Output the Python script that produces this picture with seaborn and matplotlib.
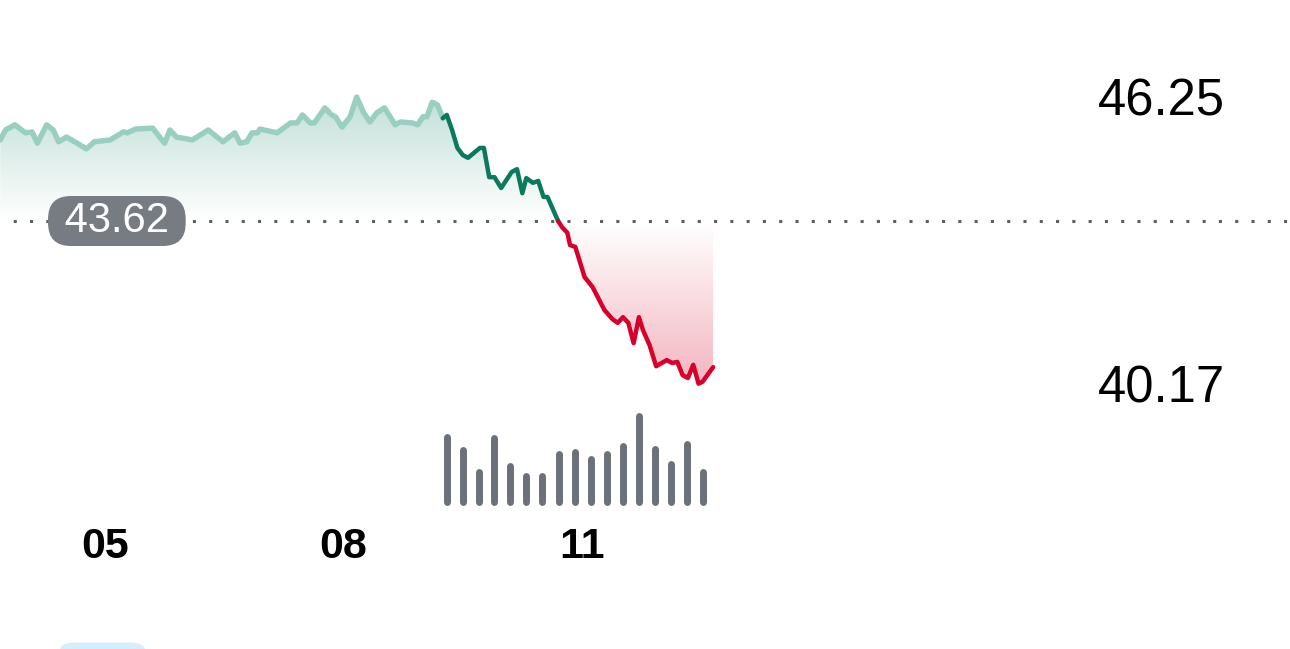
import seaborn as sns
import matplotlib.pyplot as plt
import pandas as pd
import numpy as np
from matplotlib.patches import FancyBboxPatch

sns.set_theme(style='white')
plt.rcParams['font.family'] = ['Liberation Sans', 'DejaVu Sans']

# minutes after midnight / price
pre_t = [221, 225, 232, 240, 245, 249, 256, 261, 265, 271, 279, 286, 292, 304, 314, 317, 323, 336, 345, 349,
         354, 366, 378, 389, 398, 402, 407, 411, 415, 417, 430, 440, 445, 449, 455, 458, 466, 471, 474, 479,
         485, 490, 495, 500, 505, 511, 519, 523, 532, 536, 540, 543, 547, 551, 555]
pre_p = [45.34, 45.55, 45.66, 45.49, 45.51, 45.27, 45.66, 45.55, 45.30, 45.40, 45.27, 45.15, 45.30, 45.34, 45.51,
         45.49, 45.57, 45.59, 45.27, 45.55, 45.40, 45.34, 45.55, 45.30, 45.49, 45.27, 45.30, 45.49, 45.49, 45.57,
         45.49, 45.70, 45.70, 45.87, 45.70, 45.70, 46.02, 45.87, 45.83, 45.61, 45.83, 46.25, 45.93, 45.72, 45.91,
         46.02, 45.66, 45.72, 45.70, 45.66, 45.83, 45.83, 46.14, 46.08, 45.80]

sess_t = [555, 558, 562, 566, 570, 574, 583, 586, 590, 594, 599, 607, 611, 615, 618, 623, 627, 631, 634, 642,
          645, 649, 651, 655, 662, 668, 677, 683, 687, 691, 695, 699, 703, 706, 711, 716, 724, 728, 732, 736,
          740, 744, 748, 751, 759]
sess_p = [45.80, 45.87, 45.55, 45.17, 45.02, 44.96, 45.17, 45.17, 44.55, 44.55, 44.32, 44.66, 44.72, 44.21, 44.53,
          44.43, 44.47, 44.13, 44.13, 43.62, 43.49, 43.37, 43.11, 43.07, 42.43, 42.22, 41.73, 41.54, 41.46, 41.58,
          41.46, 41.03, 41.58, 41.31, 40.99, 40.54, 40.67, 40.61, 40.63, 40.35, 40.29, 40.57, 40.17, 40.21, 40.52]

vol_t = [558, 570, 582, 594, 606, 618, 630, 643, 655, 667, 679, 691, 703, 715, 727, 739, 751]
vol = [71, 57, 33, 70, 39, 29, 29, 52, 55, 47, 52, 61, 94, 58, 42, 63, 33]

prev_close = 43.62
day_high = 46.25
day_low = 40.17
tick_pos = [300, 480, 660]
tick_lab = ['05', '08', '11']

green_ghost = '#98cfc0'
green = '#0b7a5c'
red = '#d8002a'

pre = pd.DataFrame({'t': pre_t, 'p': pre_p})
sess = pd.DataFrame({'t': sess_t, 'p': sess_p})
cross = int(np.argmax(sess['p'].values <= prev_close))
up = sess.iloc[:cross + 1]
down = sess.iloc[cross:]

fig = plt.figure(figsize=(12.9, 6.49), dpi=100)
ax = fig.add_axes([0, 129 / 649, 1, 520 / 649])
axv = fig.add_axes([0, 143 / 649, 1, 94 / 649])
for a in (ax, axv):
    a.set_facecolor('none')
    for s in a.spines.values():
        s.set_visible(False)


def grad_fill(ax, x, y, base, rgb, a_far, y_far):
    poly = ax.fill_between(x, y, base, color='none', lw=0)
    img = np.zeros((256, 1, 4))
    img[..., :3] = rgb
    img[..., 3] = np.linspace(a_far, 0, 256)[:, None]
    if y_far > base:
        ext = [min(x), max(x), base, y_far]
    else:
        ext = [min(x), max(x), y_far, base]
        img = img[::-1]
    im = ax.imshow(img, extent=ext, aspect='auto', origin='upper', zorder=1, interpolation='bilinear')
    im.set_clip_path(poly.get_paths()[0], transform=ax.transData)


all_up = pd.concat([pre, up.iloc[1:]])
grad_fill(ax, all_up['t'].values, all_up['p'].values, prev_close, (0.11, 0.55, 0.43), 0.28, 46.3)
grad_fill(ax, down['t'].values, down['p'].values, prev_close, (0.84, 0.0, 0.16), 0.30, 40.1)

ax.axhline(prev_close, color='#5a5f66', lw=2.2, linestyle=(1, (1, 4.33)), zorder=2)

sns.lineplot(data=pre, x='t', y='p', ax=ax, color=green_ghost, lw=3.9, zorder=3,
             solid_capstyle='round', solid_joinstyle='round')
sns.lineplot(data=up, x='t', y='p', ax=ax, color=green, lw=3.2, zorder=4, solid_joinstyle='round')
sns.lineplot(data=down, x='t', y='p', ax=ax, color=red, lw=3.2, zorder=4, solid_joinstyle='round')

ax.text(309, prev_close, f' {prev_close:.2f} ', ha='center', va='center', color='white', fontsize=30,
        zorder=5, bbox=dict(boxstyle='round,pad=0.12,rounding_size=0.55', fc='#777b82', ec='none'))

x0 = 220.8
x1 = x0 + 1290 / 1.325
ax.set_xlim(x0, x1)
ax.set_ylim(46.25 - 423 * 0.02121, 46.25 + 97 * 0.02121)
ax.set_xticks(tick_pos)
ax.set_xticklabels(tick_lab, fontsize=31, fontweight='bold', color='black')
ax.tick_params(axis='x', length=0, pad=5)
ax.yaxis.tick_right()
ax.set_yticks([day_low, day_high])
ax.set_yticklabels([f'{day_low:.2f}', f'{day_high:.2f}'], fontsize=36.5, color='black')
for lbl in ax.get_yticklabels():
    lbl.set_ha('right')
ax.tick_params(axis='y', length=0, pad=-46.8)
ax.set_xlabel('')
ax.set_ylabel('')
ax.grid(False)

axv.vlines(vol_t, 0, vol, color='#6b7079', lw=5, capstyle='round')
axv.set_xlim(x0, x1)
axv.set_ylim(-4, 98)
axv.set_xticks([])
axv.set_yticks([])

fig.patches.append(FancyBboxPatch((60 / 1290, -0.02), 85 / 1290, 0.03,
                                  boxstyle='round,pad=0,rounding_size=0.012',
                                  transform=fig.transFigure, fc='#d6edfb', ec='none'))

fig.savefig('out.png', dpi=100)
